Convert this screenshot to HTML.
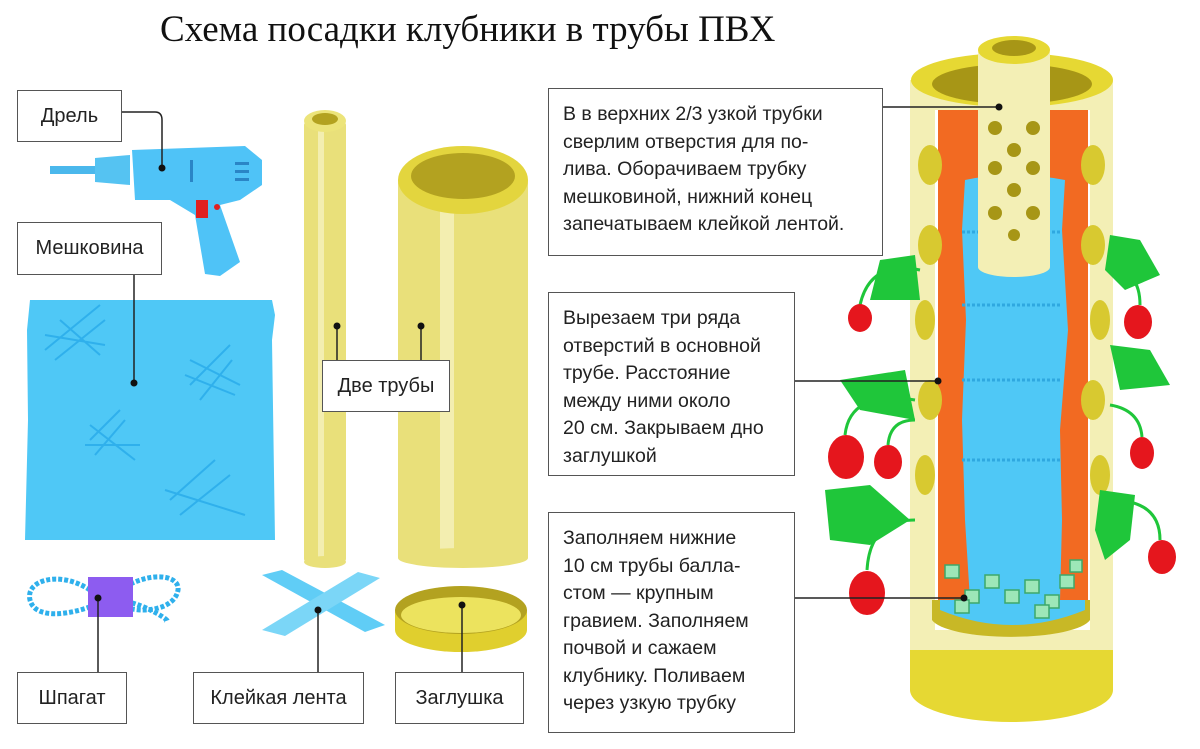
<!DOCTYPE html>
<html><head><meta charset="utf-8"><style>
html,body{margin:0;padding:0;background:#fff;}
body{width:1200px;height:749px;position:relative;overflow:hidden;font-family:"Liberation Sans","DejaVu Sans",sans-serif;}
.t{position:absolute;left:160px;top:8px;font-family:"Liberation Serif",serif;font-size:37px;color:#111;}
.b{position:absolute;border:1.5px solid #555;background:#fff;font-size:20px;color:#222;box-sizing:border-box;}
.l{display:flex;align-items:center;justify-content:center;}
.p{padding:12px 0 0 14px;line-height:27.5px;font-size:19.5px;}
svg{position:absolute;left:0;top:0;}
</style></head><body>
<svg width="1200" height="749" viewBox="0 0 1200 749">
<!-- drill -->
<g>
<rect x="50" y="166" width="50" height="8" fill="#4bb8ec"/>
<path d="M95 158 L130 155 L130 185 L95 182Z" fill="#55c3f2"/>
<path d="M132 150 L245 146 L262 160 L262 185 L240 200 L220 205 L240 262 L220 276 L205 274 L195 215 L170 200 L135 200Z" fill="#4fc3f7"/>
<rect x="196" y="200" width="12" height="18" fill="#e02020"/>
<circle cx="217" cy="207" r="3" fill="#e02020"/>
<rect x="235" y="162" width="14" height="3" fill="#2a85c6"/><rect x="235" y="170" width="14" height="3" fill="#2a85c6"/><rect x="235" y="178" width="14" height="3" fill="#2a85c6"/>
<rect x="190" y="160" width="3" height="22" fill="#2a85c6"/>
</g>
<!-- burlap -->
<path d="M30 300 L272 300 L275 315 L272 340 L275 540 L25 540 L28 420 L27 330Z" fill="#4fc8f6"/>
<g stroke="#2fb0ec" stroke-width="2" fill="none">
<path d="M45 350 L100 305 M55 360 L105 320 M60 320 L100 355 M45 335 L105 345"/>
<path d="M190 385 L230 345 M200 400 L232 360 M190 360 L240 385 M185 375 L235 395"/>
<path d="M90 440 L120 410 M95 455 L125 420 M90 425 L135 460 M85 445 L140 445"/>
<path d="M170 500 L215 460 M180 515 L230 475 M165 490 L245 515"/>
</g>
<!-- thin pipe -->
<rect x="304" y="122" width="42" height="440" rx="3" fill="#e9e07a"/>
<rect x="318" y="122" width="6" height="440" fill="#f3eeb0"/>
<ellipse cx="325" cy="562" rx="21" ry="6" fill="#e9e07a"/>
<ellipse cx="325" cy="121" rx="21" ry="11" fill="#ece47a"/>
<ellipse cx="325" cy="119" rx="13" ry="6" fill="#b3a220"/>
<!-- big pipe -->
<rect x="398" y="180" width="130" height="378" fill="#e9e07a"/>
<rect x="440" y="200" width="14" height="358" fill="#f3eeb0"/>
<ellipse cx="463" cy="558" rx="65" ry="10" fill="#e9e07a"/>
<ellipse cx="463" cy="180" rx="65" ry="34" fill="#e3d53e"/>
<ellipse cx="463" cy="176" rx="52" ry="23" fill="#b3a220"/>
<!-- cap -->
<path d="M395 610 L395 630 A66 22 0 0 0 527 630 L527 610Z" fill="#e0cf2e"/>
<ellipse cx="461" cy="610" rx="66" ry="24" fill="#b3a220"/>
<ellipse cx="461" cy="615" rx="60" ry="18" fill="#ece35e"/>
<!-- tape -->
<g opacity="0.9">
<path d="M262 575 L282 570 L385 625 L365 632Z" fill="#4fc8f6"/>
<path d="M262 630 L285 636 L380 578 L358 572Z" fill="#6dd2f7"/>
</g>
<!-- twine -->
<g fill="none" stroke="#2fb0ec" stroke-width="5" stroke-dasharray="4 2">
<path d="M90 590 C60 570 25 580 30 600 C35 620 70 615 95 605"/>
<path d="M120 590 C150 570 180 575 178 590 C175 610 140 615 120 605"/>
<path d="M120 600 C150 605 175 625 165 620"/>
</g>
<rect x="88" y="577" width="45" height="40" fill="#8d5cf0"/>
<!-- tower -->
<rect x="910" y="80" width="203" height="600" fill="#f3efb5"/>
<path d="M910 650 L910 690 A101.5 32 0 0 0 1113 690 L1113 650Z" fill="#e6d833"/>
<rect x="935" y="110" width="155" height="520" fill="#fff"/>
<ellipse cx="1012" cy="80" rx="101" ry="27" fill="#e6d833"/>
<ellipse cx="1012" cy="84" rx="80" ry="20" fill="#a79616"/>
<rect x="938" y="110" width="150" height="510" fill="#f26a22"/>
<g fill="#d8c930"><ellipse cx="930" cy="165" rx="12" ry="20"/><ellipse cx="930" cy="245" rx="12" ry="20"/><ellipse cx="925" cy="320" rx="10" ry="20"/><ellipse cx="930" cy="400" rx="12" ry="20"/><ellipse cx="925" cy="475" rx="10" ry="20"/>
<ellipse cx="1093" cy="165" rx="12" ry="20"/><ellipse cx="1093" cy="245" rx="12" ry="20"/><ellipse cx="1100" cy="320" rx="10" ry="20"/><ellipse cx="1093" cy="400" rx="12" ry="20"/><ellipse cx="1100" cy="475" rx="10" ry="20"/></g>
<path d="M965 180 Q1012 170 1065 180 L1062 230 L1068 330 L1060 430 L1062 520 L1060 600 L970 600 L965 520 L962 420 L966 320 L962 230Z" fill="#4fc8f6"/>
<g stroke="#2fa8e0" stroke-width="3" stroke-dasharray="3 2"><line x1="962" y1="232" x2="1062" y2="232"/><line x1="962" y1="305" x2="1062" y2="305"/><line x1="962" y1="380" x2="1062" y2="380"/><line x1="962" y1="460" x2="1062" y2="460"/></g>
<path d="M932 600 L1090 600 L1090 620 A80 20 0 0 1 932 620Z" fill="#c8b826"/>
<path d="M940 610 Q1012 640 1085 610 L1085 600 L940 600Z" fill="#4fc8f6"/>
<g fill="#9de7b8" stroke="#3da86a" stroke-width="1.5">
<rect x="945" y="565" width="14" height="13"/><rect x="965" y="590" width="14" height="13"/><rect x="985" y="575" width="14" height="13"/><rect x="1005" y="590" width="14" height="13"/><rect x="1025" y="580" width="14" height="13"/><rect x="1045" y="595" width="14" height="13"/><rect x="1060" y="575" width="14" height="13"/><rect x="1070" y="560" width="12" height="12"/><rect x="955" y="600" width="14" height="13"/><rect x="1035" y="605" width="14" height="13"/></g>
<rect x="978" y="52" width="72" height="215" fill="#f3efb5"/>
<ellipse cx="1014" cy="267" rx="36" ry="10" fill="#f3efb5"/>
<ellipse cx="1014" cy="50" rx="36" ry="14" fill="#e6d833"/>
<ellipse cx="1014" cy="48" rx="22" ry="8" fill="#a79616"/>
<g fill="#a79616"><circle cx="995" cy="128" r="7"/><circle cx="1033" cy="128" r="7"/><circle cx="1014" cy="150" r="7"/><circle cx="995" cy="168" r="7"/><circle cx="1033" cy="168" r="7"/><circle cx="1014" cy="190" r="7"/><circle cx="995" cy="213" r="7"/><circle cx="1033" cy="213" r="7"/><circle cx="1014" cy="235" r="6"/></g>
<!-- plants -->
<g fill="none" stroke="#1fc63a" stroke-width="3">
<path d="M920 270 Q870 260 860 305"/><path d="M1110 270 Q1140 270 1140 305"/>
<path d="M915 400 Q850 390 845 435"/><path d="M915 420 Q890 420 888 445"/><path d="M1110 405 Q1140 410 1142 437"/>
<path d="M915 520 Q870 520 867 570"/><path d="M1110 500 Q1160 500 1160 540"/>
</g>
<g fill="#1fc63a">
<path d="M880 260 L915 255 L920 300 L870 300Z"/><path d="M1110 235 L1140 240 L1160 275 L1125 290 L1105 270Z"/>
<path d="M840 380 L905 370 L915 420 L860 410Z"/><path d="M1110 345 L1150 350 L1170 385 L1120 390Z"/>
<path d="M825 490 L870 485 L910 520 L870 545 L830 540Z"/><path d="M1100 490 L1135 495 L1130 540 L1105 560 L1095 530Z"/>
</g>
<g fill="#e5161d">
<ellipse cx="860" cy="318" rx="12" ry="14"/><ellipse cx="1138" cy="322" rx="14" ry="17"/>
<ellipse cx="846" cy="457" rx="18" ry="22"/><ellipse cx="888" cy="462" rx="14" ry="17"/><ellipse cx="1142" cy="453" rx="12" ry="16"/>
<ellipse cx="867" cy="593" rx="18" ry="22"/><ellipse cx="1162" cy="557" rx="14" ry="17"/>
</g>
<!-- connectors -->
<g stroke="#222" stroke-width="1.5" fill="none">
<path d="M122 112 L155 112 Q162 112 162 120 L162 168"/>
<line x1="134" y1="275" x2="134" y2="383"/>
<path d="M337 326 L337 360 M421 326 L421 360"/>
<line x1="883" y1="107" x2="999" y2="107"/>
<line x1="795" y1="381" x2="938" y2="381"/>
<line x1="795" y1="598" x2="964" y2="598"/>
<line x1="98" y1="598" x2="98" y2="672"/>
<line x1="318" y1="610" x2="318" y2="672"/>
<line x1="462" y1="605" x2="462" y2="672"/>
</g>
<g fill="#111"><circle cx="162" cy="168" r="3.5"/><circle cx="134" cy="383" r="3.5"/><circle cx="337" cy="326" r="3.5"/><circle cx="421" cy="326" r="3.5"/><circle cx="999" cy="107" r="3.5"/><circle cx="938" cy="381" r="3.5"/><circle cx="964" cy="598" r="3.5"/><circle cx="98" cy="598" r="3.5"/><circle cx="318" cy="610" r="3.5"/><circle cx="462" cy="605" r="3.5"/></g>
</svg>
<div class="t">Схема посадки клубники в трубы ПВХ</div>
<div class="b l" style="left:17px;top:90px;width:105px;height:52px;">Дрель</div>
<div class="b l" style="left:17px;top:222px;width:145px;height:53px;">Мешковина</div>
<div class="b l" style="left:322px;top:360px;width:128px;height:52px;">Две трубы</div>
<div class="b l" style="left:17px;top:672px;width:110px;height:52px;">Шпагат</div>
<div class="b l" style="left:193px;top:672px;width:171px;height:52px;">Клейкая лента</div>
<div class="b l" style="left:395px;top:672px;width:129px;height:52px;">Заглушка</div>
<div class="b p" style="left:548px;top:88px;width:335px;height:168px;">В в верхних 2/3 узкой трубки<br>сверлим отверстия для по-<br>лива. Оборачиваем трубку<br>мешковиной, нижний конец<br>запечатываем клейкой лентой.</div>
<div class="b p" style="left:548px;top:292px;width:247px;height:184px;">Вырезаем три ряда<br>отверстий в основной<br>трубе. Расстояние<br>между ними около<br>20 см. Закрываем дно<br>заглушкой</div>
<div class="b p" style="left:548px;top:512px;width:247px;height:221px;">Заполняем нижние<br>10 см трубы балла-<br>стом — крупным<br>гравием. Заполняем<br>почвой и сажаем<br>клубнику. Поливаем<br>через узкую трубку</div>
</body></html>
